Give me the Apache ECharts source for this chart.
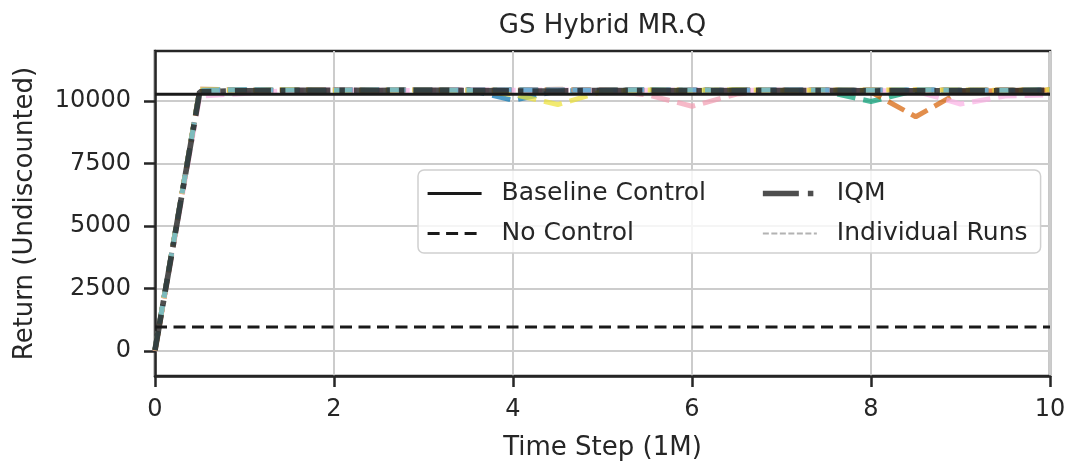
<!DOCTYPE html>
<html>
<head>
<meta charset="utf-8">
<script src="https://cdn.jsdelivr.net/npm/echarts@6/dist/echarts.min.js"></script>
<style>
  html, body { margin: 0; padding: 0; background: #ffffff; }
  #chart { width: 1072px; height: 466px; }
</style>
</head>
<body>
<div id="chart"></div>
<script>
// Evaluation steps (millions of environment steps)
const timeSteps = [0, 0.5, 1, 1.5, 2, 2.5, 3, 3.5, 4, 4.5, 5, 5.5, 6, 6.5, 7, 7.5, 8, 8.5, 9, 9.5, 10];
const xTicks = [0, 2, 4, 6, 8, 10];
const yTicks = [0, 2500, 5000, 7500, 10000];

// Reference returns
const baselineControl = 10270;
const noControl = 960;

// Interquartile mean over runs
const iqm = [30, 10370, 10410, 10420, 10430, 10420, 10430, 10420, 10400, 10400, 10420, 10420, 10400, 10420, 10420, 10420, 10400, 10410, 10410, 10400, 10430];

// Individual seeds
const runBlue   = [40, 10420, 10440, 10410, 10450, 10430, 10440, 10450, 10030, 10400, 10430, 10440, 10420, 10450, 10430, 10440, 10420, 10430, 10440, 10420, 10430];
const runGold   = [10, 10400, 10380, 10430, 10420, 10450, 10440, 10420, 10430, 10450, 10420, 10440, 10430, 10420, 10450, 10440, 10430, 10420, 10450, 10440, 10460];
const runGreen  = [60, 10430, 10450, 10420, 10440, 10430, 10420, 10440, 10450, 10430, 10420, 10450, 10440, 10430, 10420, 10380, 9980, 10420, 10400, 10430, 10440];
const runOrange = [20, 10390, 10420, 10440, 10430, 10420, 10450, 10430, 10440, 10420, 10450, 10430, 10420, 10440, 10430, 10450, 10360, 9370, 10380, 10420, 10430];
const runSalmon = [30, 10410, 10430, 10420, 10440, 10450, 10430, 10420, 10400, 10440, 10430, 10250, 9790, 10280, 10430, 10440, 10420, 10450, 10430, 10420, 10440];
const runBrown  = [50, 10480, 10440, 10460, 10450, 10430, 10460, 10440, 10450, 10470, 10440, 10450, 10460, 10430, 10450, 10440, 10460, 10450, 10440, 10460, 10450];
const runPink   = [0, 10200, 10300, 10420, 10440, 10430, 10420, 10450, 10430, 10440, 10420, 10430, 10450, 10420, 10440, 10430, 10420, 10400, 9880, 10200, 10250];
const runGrey   = [70, 10420, 10440, 10430, 10420, 10440, 10450, 10430, 10420, 10440, 10450, 10430, 10440, 10420, 10430, 10450, 10440, 10430, 10420, 10440, 10430];
const runYellow = [20, 10440, 10430, 10450, 10420, 10440, 10430, 10420, 10260, 9860, 10380, 10440, 10430, 10450, 10420, 10440, 10430, 10450, 10440, 10420, 10450];
const runSky    = [40, 10420, 10450, 10440, 10430, 10450, 10440, 10430, 10450, 10440, 10430, 10450, 10440, 10430, 10450, 10440, 10430, 10450, 10440, 10430, 10450];

const runs = [
  { values: runBlue,   color: '#0173b2' },
  { values: runGold,   color: '#de8f05' },
  { values: runGreen,  color: '#029e73' },
  { values: runOrange, color: '#d55e00' },
  { values: runSalmon, color: '#f29bb0' },
  { values: runBrown,  color: '#ca9161' },
  { values: runPink,   color: '#fbafe4' },
  { values: runGrey,   color: '#949494' },
  { values: runYellow, color: '#ece133' },
  { values: runSky,    color: '#56b4e9' }
];

const FONT = 'DejaVu Sans';
const INK = '#262626';

function textWidth(str, size) {
  const ctx = document.createElement('canvas').getContext('2d');
  ctx.font = size + 'px "' + FONT + '"';
  return ctx.measureText(str).width;
}

const pair = (xs, ys) => xs.map((x, i) => [x, ys[i]]);

const gridLeft = 155, gridRight = 22, gridTop = 51, gridBottom = 90;
const plotCenterX = gridLeft + (1072 - gridLeft - gridRight) / 2;
const titleText = 'GS Hybrid MR.Q';

// legend box geometry
const legFont = 25;
const legLeft = 418, legRight = 1039, legTextPad = 15, legIcon = 54;
const col1Width = legIcon + 5 + legTextPad + textWidth('Baseline Control', legFont);
const legPadRight = legRight - legLeft - 8 - col1Width;

const series = [];
runs.forEach((r, i) => {
  series.push({
    name: 'Run ' + (i + 1),
    type: 'line',
    data: pair(timeSteps, r.values),
    symbol: 'none',
    z: 2,
    silent: true,
    lineStyle: { color: r.color, width: 5, type: [18.5, 8], cap: 'butt', opacity: 0.7 }
  });
});
series.push({
  name: 'IQM',
  type: 'line',
  data: pair(timeSteps, iqm),
  symbol: 'none',
  z: 3,
  silent: true,
  lineStyle: { color: '#222222', width: 5.7, type: [36, 9, 5.5, 9], cap: 'butt', opacity: 0.8 }
});
series.push({
  name: 'Baseline Control',
  type: 'line',
  data: [[timeSteps[0], baselineControl], [timeSteps[timeSteps.length - 1], baselineControl]],
  symbol: 'none',
  z: 4,
  silent: true,
  lineStyle: { color: '#1a1a1a', width: 3.2, type: 'solid' }
});
series.push({
  name: 'No Control',
  type: 'line',
  data: [[timeSteps[0], noControl], [timeSteps[timeSteps.length - 1], noControl]],
  symbol: 'none',
  z: 4,
  silent: true,
  lineStyle: { color: '#1a1a1a', width: 3.2, type: [12, 6.5], cap: 'butt' }
});
series.push({
  name: 'Individual Runs',
  type: 'line',
  data: [],
  symbol: 'none',
  lineStyle: { color: '#9a9a9a', width: 1.8, type: [6, 2.5], opacity: 0.75 }
});

const legendText = { fontSize: legFont, fontFamily: FONT, color: INK, padding: [0, 0, 0, legTextPad] };
const legendIconStyle = { opacity: 0, borderWidth: 0 };
const legendLineStyle = { width: 'inherit', type: 'inherit', color: 'inherit', opacity: 'inherit', cap: 'butt' };

const option = {
  animation: false,
  backgroundColor: '#ffffff',
  title: {
    text: titleText,
    left: plotCenterX - textWidth(titleText, 26) / 2,
    top: 13,
    padding: 0,
    textStyle: { fontSize: 26, fontFamily: FONT, color: INK, fontWeight: 'normal' }
  },
  legend: [
    {
      data: ['Baseline Control', 'No Control'],
      orient: 'vertical',
      left: legLeft,
      top: 170,
      padding: [11, legPadRight, 7, 8],
      itemWidth: legIcon,
      itemHeight: 14,
      itemGap: 15,
      backgroundColor: 'rgba(255,255,255,0.8)',
      borderColor: '#d0d0d0',
      borderWidth: 1.5,
      borderRadius: 6,
      selectedMode: false,
      itemStyle: legendIconStyle,
      lineStyle: legendLineStyle,
      textStyle: legendText,
      z: 10
    },
    {
      data: ['IQM', 'Individual Runs'],
      orient: 'vertical',
      left: 760,
      top: 170,
      padding: [11, 0, 7, 0],
      itemWidth: legIcon,
      itemHeight: 14,
      itemGap: 15,
      selectedMode: false,
      itemStyle: legendIconStyle,
      lineStyle: legendLineStyle,
      textStyle: legendText,
      z: 11
    }
  ],
  grid: {
    left: gridLeft, right: gridRight, top: gridTop, bottom: gridBottom,
    show: true, borderColor: INK, borderWidth: 2.5, backgroundColor: 'transparent'
  },
  xAxis: {
    type: 'value',
    min: 0, max: 10, interval: 2,
    name: 'Time Step (1M)',
    nameLocation: 'middle',
    nameGap: 59,
    nameTextStyle: { fontSize: 26, fontFamily: FONT, color: INK },
    axisLine: { show: true, onZero: false, lineStyle: { color: INK, width: 2.5 } },
    axisTick: { show: true, length: 11, lineStyle: { color: INK, width: 2.5 } },
    axisLabel: { fontSize: 24, fontFamily: FONT, color: INK, margin: 22,
      customValues: xTicks, formatter: v => String(v) },
    splitLine: { show: true, lineStyle: { color: '#cccccc', width: 2 } }
  },
  yAxis: {
    type: 'value',
    min: -1000, max: 12000,
    name: 'Return (Undiscounted)',
    nameLocation: 'middle',
    nameGap: 117,
    nameTextStyle: { fontSize: 26, fontFamily: FONT, color: INK },
    axisLine: { show: true, onZero: false, lineStyle: { color: INK, width: 2.5 } },
    axisTick: { show: true, length: 11, customValues: yTicks, lineStyle: { color: INK, width: 2.5 } },
    axisLabel: { fontSize: 24, fontFamily: FONT, color: INK, margin: 24,
      customValues: yTicks, formatter: v => String(v) },
    splitLine: { show: true, lineStyle: { color: '#cccccc', width: 2 } }
  },
  series: series
};

const chart = echarts.init(document.getElementById('chart'), null, { renderer: 'canvas' });
chart.setOption(option);
</script>
</body>
</html>
